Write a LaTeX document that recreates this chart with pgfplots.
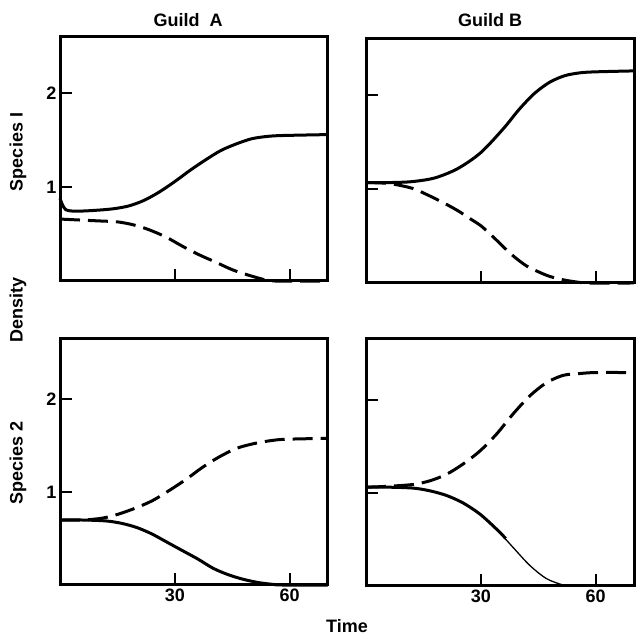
\documentclass[border=0pt]{standalone}
\usepackage{fontspec}
\setmainfont{Liberation Sans}
\usepackage{pgfplots}
\pgfplotsset{compat=1.18}
\newcommand{\lf}{\bfseries\fontsize{18}{21}\selectfont}
\pgfplotsset{
  panel/.style={
    scale only axis, width=268pt,
    xmin=0, xmax=70, ymin=0,
    axis line style={line width=3pt},
    xtick={30,60}, ytick={1,2},
    tick pos=left, tick align=inside,
    major tick length=12pt,
    every tick/.style={line width=2pt, black},
    tick label style={font=\lf},
    /pgf/number format/assume math mode=true,
    clip=false,
  },
  sol/.style={black, line width=3pt, smooth, no marks},
  das/.style={black, line width=3pt, smooth, no marks, dash pattern=on 20pt off 8pt},
}
\begin{document}
\begin{tikzpicture}[x=1pt,y=1pt]
\useasboundingbox (0,0) rectangle (636,636);
% Top-left: Guild A, Species 1
\begin{axis}[panel, at={(60pt,355pt)}, anchor=south west, height=244pt, ymax=2.6,
  xticklabels={}, yticklabels={1,2}]
\addplot[sol] coordinates {(0,0.88) (1.5,0.76) (5,0.745) (10,0.755) (14,0.77) (18,0.80) (22,0.86) (26,0.95) (30,1.06) (34,1.18) (38,1.29) (42,1.39) (46,1.46) (50,1.515) (54,1.54) (58,1.55) (70,1.56)};
\addplot[das] coordinates {(0,0.66) (5,0.65) (10.2,0.64) (15,0.63) (19,0.60) (23,0.55) (27.6,0.47) (32,0.37) (36.3,0.28) (40.7,0.2) (45,0.12) (49.4,0.06) (53.8,0.01) (56,0) (70,0)};
\end{axis}
% Top-right: Guild B, Species 1
\begin{axis}[panel, at={(366pt,353pt)}, anchor=south west, height=244pt, ymax=2.6,
  xticklabels={}, yticklabels={}]
\addplot[sol] coordinates {(0,1.07) (6,1.07) (12,1.08) (18,1.12) (24,1.22) (30,1.39) (36,1.65) (40,1.85) (44,2.02) (48,2.14) (52,2.21) (56,2.24) (60,2.25) (70,2.26)};
\addplot[das] coordinates {(0,1.07) (6,1.06) (12,1.01) (16,0.94) (20,0.86) (24,0.77) (27,0.69) (30,0.61) (33,0.5) (36,0.38) (39,0.27) (42,0.18) (45,0.12) (48,0.07) (52,0.03) (56,0.005) (58,0) (70,0)};
\end{axis}
% Bottom-left: Guild A, Species 2
\begin{axis}[panel, at={(60pt,51pt)}, anchor=south west, height=246pt, ymax=2.65,
  xticklabels={30,60}, yticklabels={1,2}]
\addplot[sol] coordinates {(0,0.70) (6,0.70) (12,0.69) (16,0.665) (20,0.62) (24,0.55) (28,0.46) (32,0.37) (36,0.28) (40,0.18) (44,0.11) (48,0.06) (52,0.025) (56,0.005) (58,0) (70,0)};
\addplot[das] coordinates {(0,0.70) (6,0.70) (11,0.72) (15,0.76) (19.8,0.83) (24.2,0.91) (28.6,1.02) (33,1.14) (37.3,1.27) (41.6,1.38) (46,1.47) (50.3,1.52) (55,1.555) (59,1.57) (70,1.58)};
\end{axis}
% Bottom-right: Guild B, Species 2
\begin{axis}[panel, at={(366pt,50pt)}, anchor=south west, height=247pt, ymax=2.65,
  xticklabels={30,60}, yticklabels={}]
\addplot[sol] coordinates {(0,1.06) (6,1.06) (12.4,1.05) (16.8,1.02) (21.1,0.97) (25.4,0.89) (29.8,0.77) (34.1,0.61) (36.5,0.51)};
\addplot[black, line width=1.3pt, smooth, no marks] coordinates {(34.1,0.61) (38.5,0.41) (42.8,0.22) (47.1,0.08) (51.5,0.01) (54,0) (70,0)};
\addplot[das] coordinates {(0,1.06) (6,1.07) (12.4,1.09) (16.8,1.13) (21.1,1.2) (25.4,1.31) (29.8,1.45) (34.1,1.63) (38.5,1.85) (42.8,2.04) (47.1,2.18) (51.5,2.26) (56,2.28) (60,2.29) (70,2.29)};
\end{axis}
% Labels
\node[font=\lf] at (188,616) {Guild\ \ A};
\node[font=\lf] at (490,616) {Guild B};
\node[font=\lf, rotate=90] at (18,484) {Species I};
\node[font=\lf, rotate=90] at (18,326) {Density};
\node[font=\lf, rotate=90] at (18,173) {Species 2};
\node[font=\lf] at (347,10) {Time};
\end{tikzpicture}
\end{document}
